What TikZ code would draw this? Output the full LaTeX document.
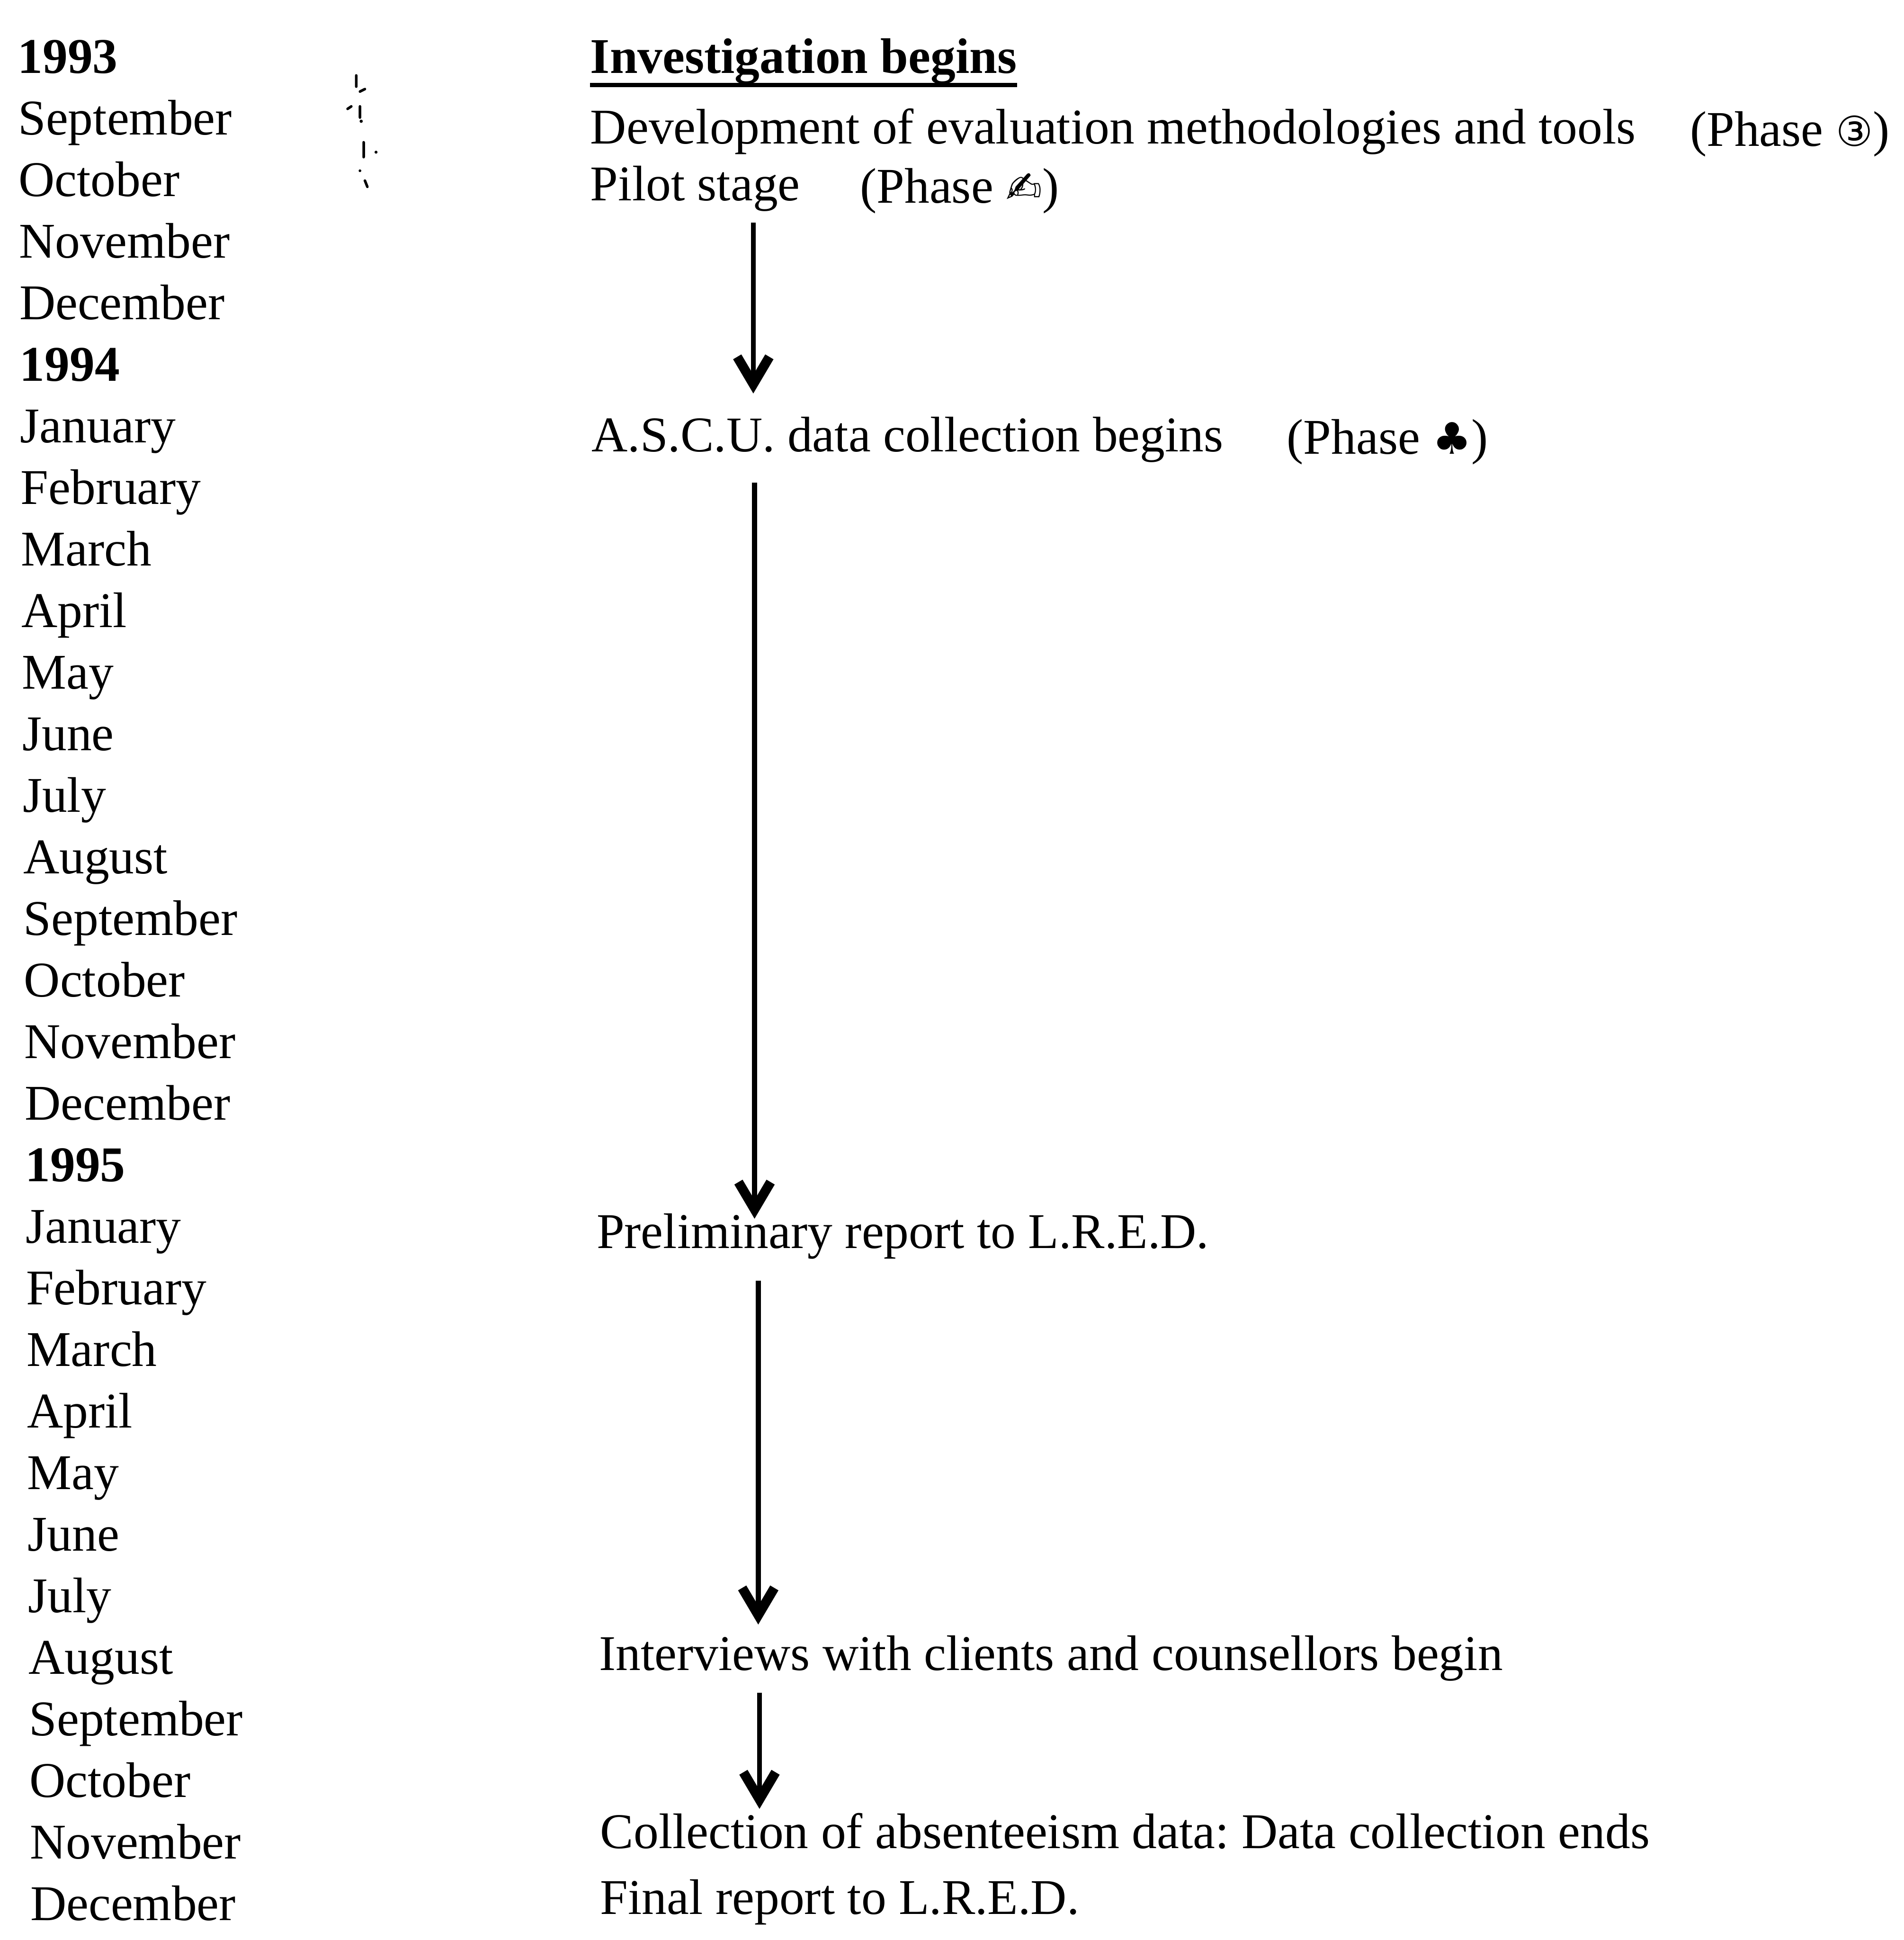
\documentclass[tikz,border=0pt]{standalone}
\usepackage{fontspec}
\setmainfont{Liberation Serif}
\newfontfamily\symfont{DejaVu Sans}
\usetikzlibrary{arrows.meta}
\frenchspacing

\tikzset{
  label text/.style={inner sep=0pt, anchor=base west, font=\fontsize{23}{28}\selectfont},
  flow/.style={line width=2.3pt, -{Straight Barb[length=0.44cm, width=0.52cm, line width=4.4pt]}},
}

\begin{document}
\begin{tikzpicture}[x=0.02cm, y=-0.02cm, every node/.style={label text}]
  \useasboundingbox (0,0) rectangle (1539,1568);
  % months down the left side
  \foreach \m [count=\i from 0] in {\textbf{1993},September,October,November,December,
      \textbf{1994},January,February,March,April,May,June,July,August,September,October,November,December,
      \textbf{1995},January,February,March,April,May,June,July,August,September,October,November,December}
    \node (m\i) at ({14+\i*0.34}, {59+\i*49.77}) {\m};
  % scanner marks
  \draw[line width=1.2pt, line cap=round] (288,61) -- (288,70) (291,74) -- (295,72)
    (281,88) -- (284,86) (291,86) -- (291,95) (294,115) -- (294,127) (295,146) -- (297,151);
  \fill (292,98) circle (1.3) (304,123) circle (1.2) (291,138) circle (1.1);
  % events
  \node (inv) at (477,59) {\textbf{Investigation begins}};
  \draw[line width=2pt] ([yshift=-5.5pt]inv.base west) -- ([yshift=-5.5pt]inv.base east);
  \node (dev) at (477,116) {Development of evaluation methodologies and tools};
  \node (devph) at (1366,118) {(Phase {\symfont\fontsize{19}{20}\selectfont ③})};
  \node (pilot) at (477,162) {Pilot stage};
  \node (pilotph) at (695,164) {(Phase {\symfont\fontsize{20}{20}\selectfont ✍})};
  \node (ascu) at (478,365) {A.S.C.U. data collection begins};
  \node (ascuph) at (1040,367) {(Phase {\symfont\fontsize{20}{20}\selectfont ♣})};
  \node (prelim) at (482,1009) {Preliminary report to L.R.E.D.};
  \node (interv) at (484,1350) {Interviews with clients and counsellors begin};
  \node (coll) at (485,1494) {Collection of absenteeism data: Data collection ends};
  \node (final) at (485,1547) {Final report to L.R.E.D.};
  % arrows
  \coordinate (a1) at (609,0);
  \coordinate (a2) at (610,0);
  \coordinate (a3) at (613,0);
  \coordinate (a4) at (614,0);
  \draw[flow, shorten <=0.36cm, shorten >=0.94cm] (pilot.base -| a1) -- (ascu.base -| a1);
  \draw[flow, shorten <=0.5cm, shorten >=0.48cm] (ascu.base -| a2) -- (prelim.base -| a2);
  \draw[flow, shorten <=0.52cm, shorten >=0.74cm] (prelim.base -| a3) -- (interv.base -| a3);
  \draw[flow, shorten <=0.36cm, shorten >=0.64cm] (interv.base -| a4) -- (coll.base -| a4);
\end{tikzpicture}
\end{document}
